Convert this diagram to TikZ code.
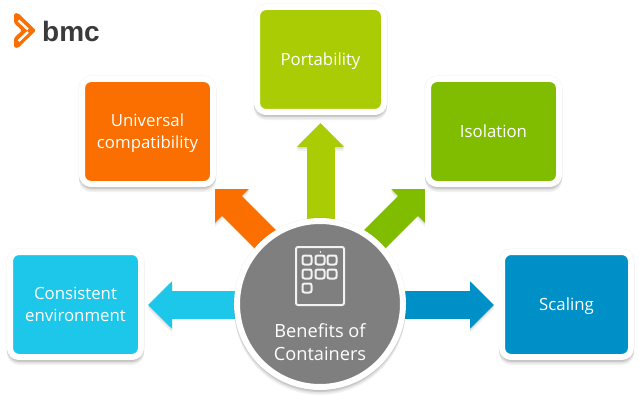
\documentclass[tikz,border=0pt]{standalone}
\usepackage{fontspec}
\setmainfont{Open Sans}
\newfontfamily\logofont{Liberation Sans}
\usetikzlibrary{arrows.meta,backgrounds,positioning}
\definecolor{cyanbox}{HTML}{1CC7EA}
\definecolor{orangebox}{HTML}{FB6F00}
\definecolor{limebox}{HTML}{AACC04}
\definecolor{greenbox}{HTML}{80BC00}
\definecolor{bluebox}{HTML}{0090C8}
\definecolor{hubgray}{HTML}{7F7F7F}
\definecolor{logogray}{HTML}{3A3A3C}
\tikzset{
  softshadow/.style={preaction={draw=black,draw opacity=0.05,fill=black,fill opacity=0.05,line width=7pt},
    preaction={draw=black,draw opacity=0.06,fill=black,fill opacity=0.06,transform canvas={yshift=-2pt}},
    preaction={draw=black,draw opacity=0.06,fill=black,fill opacity=0.06,transform canvas={yshift=-3.5pt}},
    preaction={draw=black,draw opacity=0.05,fill=black,fill opacity=0.05,transform canvas={yshift=-5pt}}},
  benefit/.style={draw=white,line width=6pt,rounded corners=9pt,minimum width=131pt,minimum height=105pt,
    inner sep=0pt,align=center,text=white,font=\fontsize{16.8}{22}\selectfont,softshadow},
  arrowshadow/.style={preaction={draw=black!5,transform canvas={yshift=-4pt}},
    preaction={draw=black!12,transform canvas={yshift=-2pt}}},
  blockarrow/.style={line width=28pt,-{Triangle[width=46pt,length=24pt]},arrowshadow},
  iconline/.style={draw=white!95!black,line width=2pt,rounded corners=2pt},
}
\begin{document}
\begin{tikzpicture}[x=1pt,y=-1pt]
\useasboundingbox (0,0) rectangle (639,401);

% Boxes
\node[benefit,fill=cyanbox] (consistent) at (75.5,304.5) {Consistent\\environment};
\node[benefit,fill=orangebox,text depth=0pt] (universal) at (147.5,131.5) {Universal\\compatibility};
\node[benefit,fill=limebox,minimum width=127pt,text height=15.5pt] (portability) at (320.5,59.5) {Portability};
\node[benefit,fill=greenbox] (isolation) at (493.5,131.5) {Isolation};
\node[benefit,fill=bluebox,minimum width=129pt,text height=15.5pt] (scaling) at (566.5,304.5) {Scaling};

% Hub
\node[circle,draw=white,line width=6pt,fill=hubgray,minimum size=166pt,inner sep=0pt,softshadow] (hub) at (320,304) {};
\node[align=center,text=white,font=\fontsize{18.2}{23}\selectfont] (hubtext) at (320,342) {Benefits of\\Containers};

% Arrow tips
\coordinate (tipconsistent) at (148,305);
\coordinate (tipuniversal) at (215,189);
\coordinate (tipportability) at (320.5,123);
\coordinate (tipisolation) at (425,189);
\coordinate (tipscaling) at (494,305);

% Arrows
\begin{scope}[on background layer]
\draw[blockarrow,cyanbox] (hub.center |- tipconsistent) -- (tipconsistent);
\draw[blockarrow,orangebox] ([xshift=10pt]hub.center) -- (tipuniversal);
\draw[blockarrow,limebox] (hub.center -| tipportability) -- (tipportability);
\draw[blockarrow,greenbox] ([xshift=-10pt]hub.center) -- (tipisolation);
\draw[blockarrow,bluebox] (hub.center |- tipscaling) -- (tipscaling);
\end{scope}

% Icon
\draw[iconline] (296,247) rectangle (344,305);
\foreach \col/\row in {307/260,320/260,332/260,307/274,320/274,332/274,307/288}
  \draw[iconline] (\col-4.5,\row-4.5) rectangle (\col+4.5,\row+4.5);
\fill[white] (320.5,252) circle (0.8pt);

% Logo
\fill[orangebox,rounded corners=1.5pt] (14,13.5) -- (18,13) -- (36,30.5) -- (18,48) -- (14,47.5) -- (14,38) -- (22,30.5) -- (14,23) -- cycle;
\draw[white,line width=2.4pt] (18.5,20.5) -- (28,29.5);
\draw[white,line width=2.4pt] (18.5,41) -- (28,32);
\node[anchor=west,inner sep=0pt,text=logogray,font=\logofont\fontsize{28}{28}\selectfont\bfseries] (logo) at (42,31) {bmc};
\end{tikzpicture}
\end{document}
